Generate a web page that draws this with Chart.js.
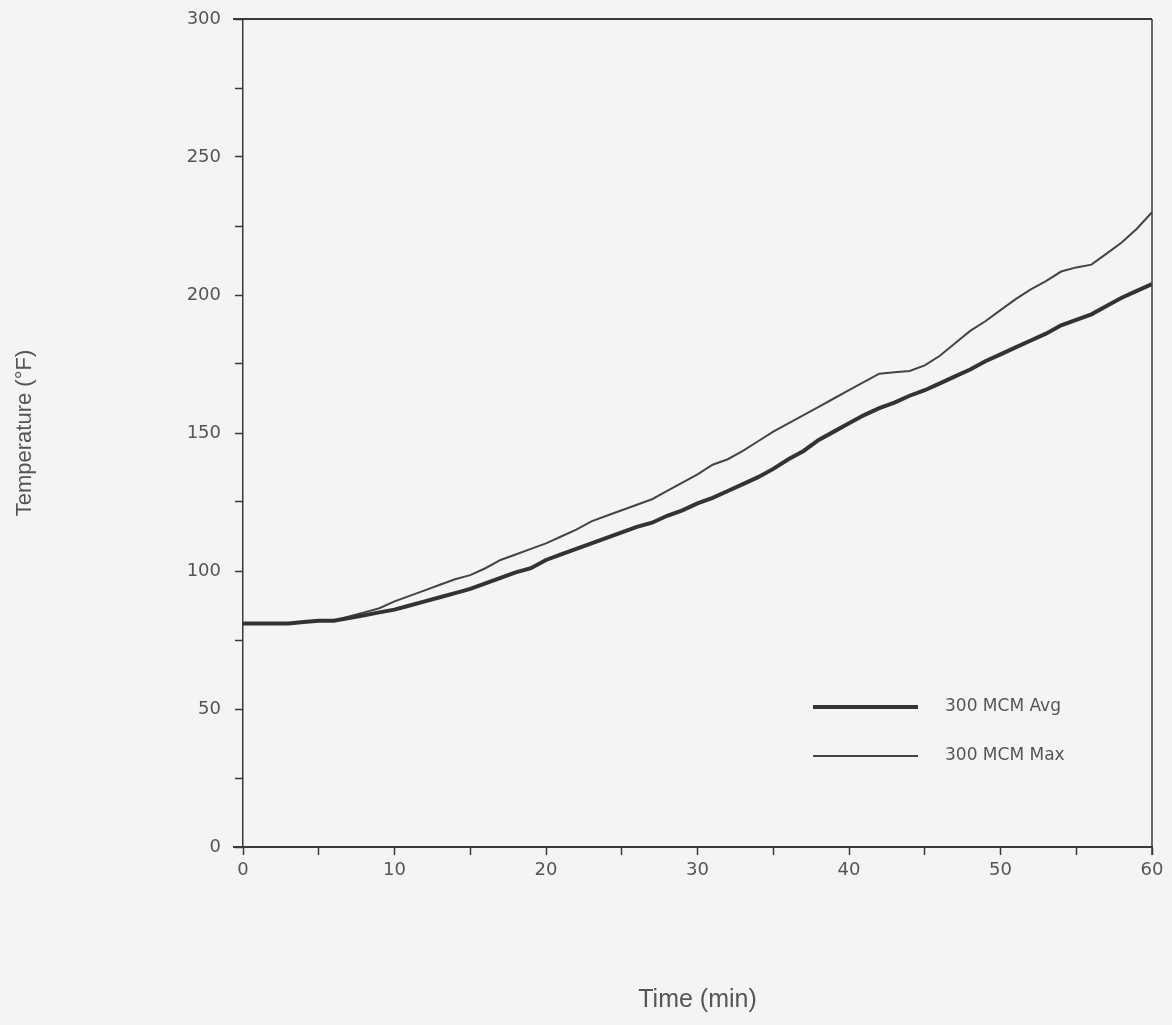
<!DOCTYPE html>
<html>
<head>
<meta charset="utf-8">
<script src="https://cdn.jsdelivr.net/npm/chart.js@4.4.0/dist/chart.umd.min.js"></script>
<style>
  html, body { margin: 0; padding: 0; background: #f4f4f2; }
  #wrap { width: 1172px; height: 1025px; }
</style>
</head>
<body>
<div id="wrap"><canvas id="grafico" width="1172" height="1025"></canvas></div>
<script>
// ===== DADOS =====
const tempos = [0,1,2,3,4,5,6,7,8,9,10,11,12,13,14,15,16,17,18,19,20,21,22,23,24,25,26,27,28,29,30,
  31,32,33,34,35,36,37,38,39,40,41,42,43,44,45,46,47,48,49,50,51,52,53,54,55,56,57,58,59,60];
const mediaMCM = [81,81,81,81,81.5,82,82,83,84,85,86,87.5,89,90.5,92,93.5,95.5,97.5,99.5,101,104,
  106,108,110,112,114,116,117.5,120,122,124.5,126.5,129,131.5,134,137,140.5,143.5,147.5,150.5,153.5,
  156.5,159,161,163.5,165.5,168,170.5,173,176,178.5,181,183.5,186,189,191,193,196,199,201.5,204];
const maximoMCM = [81,81,81,81,81.5,82,82,83.5,85,86.5,89,91,93,95,97,98.5,101,104,106,108,110,
  112.5,115,118,120,122,124,126,129,132,135,138.5,140.5,143.5,147,150.5,153.5,156.5,159.5,162.5,165.5,
  168.5,171.5,172,172.5,174.5,178,182.5,187,190.5,194.5,198.5,202,205,208.5,210,211,215,219,224,230];
const rotulos = ['300 MCM Avg', '300 MCM Max'];

const corTexto = '#555';
const corLinha = '#3a3a3a';
const fonteNum = '"DejaVu Sans", "Liberation Sans", sans-serif';
const fonteTxt = '"Liberation Sans", Arial, sans-serif';

// ===== MOLDURA E LEGENDA =====
const moldura = {
  id: 'moldura',
  afterDraw(chart) {
    const { ctx, chartArea: a } = chart;
    ctx.save();
    ctx.strokeStyle = corLinha;
    ctx.lineWidth = 2;
    ctx.beginPath();
    ctx.moveTo(a.left - 10, a.top); ctx.lineTo(a.right, a.top);
    ctx.moveTo(a.left - 10, a.bottom); ctx.lineTo(a.right, a.bottom);
    ctx.stroke();
    ctx.lineWidth = 1.5;
    ctx.beginPath();
    ctx.moveTo(a.right, a.top); ctx.lineTo(a.right, a.bottom + 8);
    ctx.stroke();

    // legenda dentro do gráfico
    const x0 = 813, x1 = 918, tx = 945;
    const ys = [707, 756];
    chart.data.datasets.forEach((ds, i) => {
      ctx.strokeStyle = ds.borderColor;
      ctx.lineWidth = ds.borderWidth;
      ctx.beginPath();
      ctx.moveTo(x0, ys[i]); ctx.lineTo(x1, ys[i]);
      ctx.stroke();
      ctx.fillStyle = corTexto;
      ctx.font = '17px ' + fonteNum;
      ctx.textBaseline = 'middle';
      ctx.fillText(ds.label, tx, ys[i]);
    });
    ctx.restore();
  }
};

new Chart(document.getElementById('grafico'), {
  type: 'line',
  data: {
    labels: tempos,
    datasets: [
      {
        label: rotulos[0],
        data: tempos.map((t, i) => ({ x: t, y: mediaMCM[i] })),
        borderColor: '#333',
        borderWidth: 4,
        pointRadius: 0,
        tension: 0
      },
      {
        label: rotulos[1],
        data: tempos.map((t, i) => ({ x: t, y: maximoMCM[i] })),
        borderColor: '#444',
        borderWidth: 2,
        pointRadius: 0,
        tension: 0
      }
    ]
  },
  options: {
    responsive: false,
    animation: false,
    layout: { padding: { top: 19, right: 20, left: 0, bottom: 0 } },
    plugins: {
      legend: { display: false },
      tooltip: { enabled: false }
    },
    scales: {
      x: {
        type: 'linear',
        min: 0, max: 60,
        afterFit(scale) { scale.height = 1025 - 847; },
        border: { display: true, color: corLinha, width: 2 },
        grid: { drawOnChartArea: false, tickLength: 8, color: corLinha, tickWidth: 1.5 },
        ticks: {
          stepSize: 5,
          padding: 5,
          color: corTexto,
          font: { size: 18, family: fonteNum },
          maxRotation: 0,
          callback: v => (v % 10 === 0 ? v : '')
        },
        title: {
          display: true,
          text: 'Time (min)',
          color: corTexto,
          font: { size: 25, family: fonteTxt },
          padding: { top: 0, bottom: 10 }
        }
      },
      y: {
        min: 0, max: 300,
        afterFit(scale) {
          scale.width = 243;
          scale.paddingTop = 0;
          scale.paddingBottom = 0;
        },
        border: { display: true, color: corLinha, width: 1.5 },
        grid: { drawOnChartArea: false, tickLength: 8, color: corLinha, tickWidth: 1.5 },
        ticks: {
          stepSize: 25,
          padding: 14,
          color: corTexto,
          font: { size: 18, family: fonteNum },
          callback: v => (v % 50 === 0 ? v : '')
        },
        title: {
          display: true,
          text: 'Temperature (°F)',
          color: corTexto,
          font: { size: 22, family: fonteTxt },
          padding: { top: 12, bottom: 0 }
        }
      }
    }
  },
  plugins: [moldura]
});
</script>
</body>
</html>
